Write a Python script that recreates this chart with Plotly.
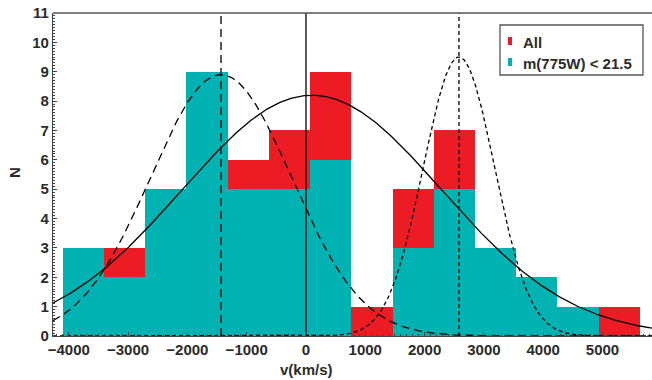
import numpy as np
import plotly.graph_objects as go

# ---- data ----
bin_start = -4100
bin_width = 695
n_all = [3, 3, 5, 9, 6, 7, 9, 1, 5, 7, 3, 2, 1, 1]
n_bright = [3, 2, 5, 9, 5, 5, 6, 0, 3, 5, 3, 2, 1, 0]
series_names = ["All", "m(775W) < 21.5"]

# Gaussian fits: (mean, sigma, amplitude)
fit_all = (100, 2190, 8.2)
fit_low = (-1433, 1190, 8.9)
fit_high = (2580, 600, 9.5)
vlines = [0, -1433, 2580]

x_range = [-4266, 5835]
y_range = [0, 11]
x_ticks = [-4000, -3000, -2000, -1000, 0, 1000, 2000, 3000, 4000, 5000]
x_ticktext = ["\u22124000", "\u22123000", "\u22122000", "\u22121000", "0",
              "1000", "2000", "3000", "4000", "5000"]

RED = "#ed1c24"
CYAN = "#00b2b2"
INK = "#2b2b2b"
FAM = "Liberation Sans, Arial"

centers = [bin_start + bin_width * (i + 0.5) for i in range(len(n_all))]

fig = go.Figure()
fig.add_trace(go.Bar(x=centers, y=n_all, width=bin_width, name=series_names[0],
                     showlegend=False, marker=dict(color=RED, line=dict(width=0))))
fig.add_trace(go.Bar(x=centers, y=n_bright, width=bin_width, name=series_names[1],
                     showlegend=False, marker=dict(color=CYAN, line=dict(width=0))))

xs = np.linspace(x_range[0], x_range[1], 600)
def gauss(p):
    m, s, a = p
    return a * np.exp(-(xs - m) ** 2 / (2 * s ** 2))

fig.add_trace(go.Scatter(x=xs, y=gauss(fit_all), mode="lines", showlegend=False,
                         line=dict(color="black", width=1.3)))
fig.add_trace(go.Scatter(x=xs, y=gauss(fit_low), mode="lines", showlegend=False,
                         line=dict(color="black", width=1.3, dash="8px,5px")))
fig.add_trace(go.Scatter(x=xs, y=gauss(fit_high), mode="lines", showlegend=False,
                         line=dict(color="black", width=1.3, dash="4px,3px")))

dashes = ["solid", "8px,5px", "4px,3px"]
for v, d in zip(vlines, dashes):
    fig.add_trace(go.Scatter(x=[v, v], y=y_range, mode="lines", showlegend=False,
                             line=dict(color="black", width=1.3, dash=d)))

bold = dict(family=FAM, size=15, color=INK, weight="bold")

fig.update_layout(
    width=652, height=380,
    margin=dict(l=53, r=0, t=13, b=44),
    plot_bgcolor="white", paper_bgcolor="white",
    barmode="overlay", bargap=0,
    font=dict(family=FAM, size=15, color=INK),
    showlegend=False,
    xaxis=dict(range=x_range, showgrid=False, zeroline=False, automargin=False,
               showline=True, linecolor="#444", linewidth=1.3,
               tickmode="array", tickvals=x_ticks, ticktext=x_ticktext,
               ticks="inside", ticklen=4, tickcolor="#444",
               minor=dict(dtick=100, ticks="inside", ticklen=2, tickcolor="#444"),
               tickfont=bold),
    yaxis=dict(range=y_range, showgrid=False, zeroline=False, automargin=False,
               showline=True, linecolor="#444", linewidth=1.3,
               dtick=1, ticks="inside", ticklen=4, tickcolor="#444",
               minor=dict(dtick=0.1, ticks="inside", ticklen=2, tickcolor="#444"),
               tickfont=bold),
)

# pixel -> paper helpers (plot area: x 53..652, y 13..336)
def px(x):
    return (x - 53) / 599.0
def py(y):
    return (336 - y) / 323.0

fig.add_annotation(text="v(km/s)", xref="paper", yref="paper", x=px(306), y=py(370),
                   xanchor="center", yanchor="middle", showarrow=False, font=bold)
fig.add_annotation(text="N", xref="paper", yref="paper", x=px(15), y=py(173),
                   xanchor="center", yanchor="middle", showarrow=False, textangle=-90,
                   font=bold)
# top border line
fig.add_shape(type="line", xref="paper", yref="paper", x0=0, x1=1, y0=1, y1=1,
              line=dict(color="#555", width=1.3))

# legend box
fig.add_shape(type="rect", xref="paper", yref="paper", x0=px(500), x1=px(643),
              y0=py(75), y1=py(25), fillcolor="white", line=dict(color="#555", width=1.3))
for i, (name, col) in enumerate(zip(series_names, [RED, CYAN])):
    yc = 41 + 21 * i
    fig.add_shape(type="rect", xref="paper", yref="paper", x0=px(508), x1=px(512),
                  y0=py(yc + 4), y1=py(yc - 4), fillcolor=col, line=dict(width=0))
    fig.add_annotation(text=name, xref="paper", yref="paper", x=px(521), y=py(yc + 1),
                       xanchor="left", yanchor="middle", showarrow=False, font=bold)

fig.write_html("out.html", config={"displayModeBar": False},
               post_script="document.body.style.margin='0';document.body.style.overflow='hidden';")
